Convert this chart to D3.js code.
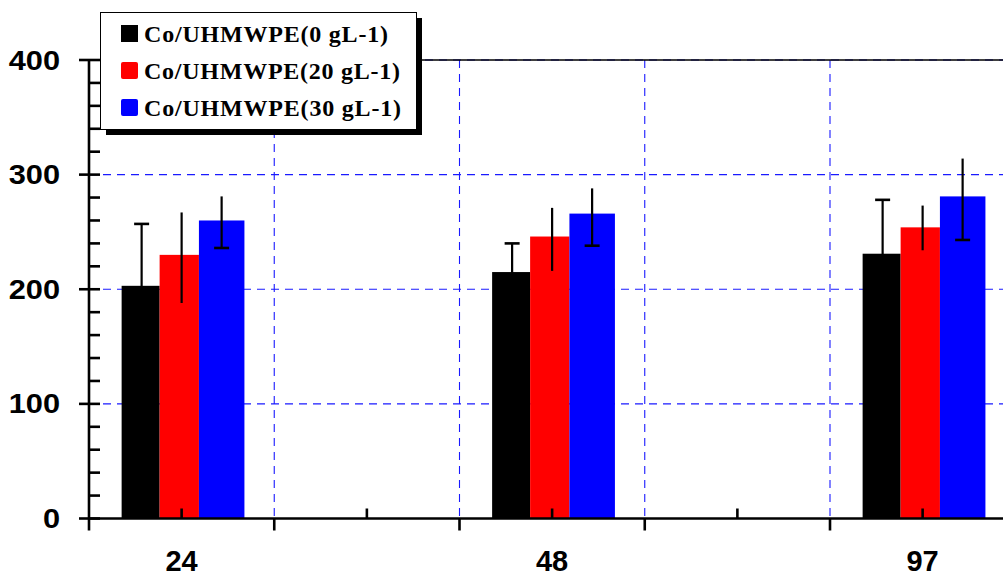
<!DOCTYPE html>
<html>
<head>
<meta charset="utf-8">
<script src="https://cdn.jsdelivr.net/npm/d3@7"></script>
<style>
  html, body { margin: 0; padding: 0; background: #fff; }
  svg { display: block; }
</style>
</head>
<body>
<svg id="chart" width="1003" height="578"></svg>
<script>
// ---- data ----
const categories = ["24", "48", "97"];
const seriesNames = ["Co/UHMWPE(0 gL-1)", "Co/UHMWPE(20 gL-1)", "Co/UHMWPE(30 gL-1)"];
const valuesBlack = [203, 215, 231];
const valuesRed   = [230, 246, 254];
const valuesBlue  = [260, 266, 281];
const errPlusBlack  = [54, 25, 47];
const errMinusBlack = [54, 25, 47];
const errPlusRed    = [37, 25, 19];
const errMinusRed   = [42, 30, 20];
const errPlusBlue   = [21, 22, 33];
const errMinusBlue  = [24, 28, 38];
const yTicks = [0, 100, 200, 300, 400];
const yMinorTicks = d3.range(0, 401, 20);

// ---- layout ----
const W = 1003, H = 578;
const x0 = 89, yBase = 518.5, yTop = 60;
const slot = 185.25;                 // width of one axis unit
const colors = ["#000000", "#ff0000", "#0000ff"];
// bar spans relative to the category centre (black, red, blue)
const barSpans = [[-60, -22], [-22, 17.3], [17.3, 62.8]];
const errOffsets = [-40, 0, 40];
const capMode = ["top", "none", "bottom"];
const legendTextWidths = [244, 256, 257];

const svg = d3.select("#chart");

const x = d3.scaleLinear().domain([0, 5]).range([x0, x0 + 5 * slot]);
const y = d3.scaleLinear().domain([0, 400]).range([yBase, yTop]);
const catPos = i => x(0.5 + 2 * i);

// ---- grid ----
const grid = svg.append("g")
  .attr("stroke", "#1a1aff").attr("stroke-width", 1.1)
  .attr("stroke-dasharray", "8,6");
grid.selectAll("line.h").data([100, 200, 300, 400]).join("line")
  .attr("x1", x0).attr("x2", W)
  .attr("y1", d => y(d)).attr("y2", d => y(d));
grid.selectAll("line.v").data([1, 2, 3, 4]).join("line")
  .attr("x1", d => x(d)).attr("x2", d => x(d))
  .attr("y1", yTop).attr("y2", yBase);

// top frame line
svg.append("line")
  .attr("x1", x0).attr("x2", W).attr("y1", y(400)).attr("y2", y(400))
  .attr("stroke", "#000").attr("stroke-width", 1.3);

// ---- bars ----
const series = [
  { vals: valuesBlack, plus: errPlusBlack, minus: errMinusBlack },
  { vals: valuesRed,   plus: errPlusRed,   minus: errMinusRed },
  { vals: valuesBlue,  plus: errPlusBlue,  minus: errMinusBlue }
];

const bars = svg.append("g");
series.forEach((s, si) => {
  bars.selectAll(null).data(s.vals).join("rect")
    .attr("x", (d, i) => catPos(i) + barSpans[si][0])
    .attr("width", barSpans[si][1] - barSpans[si][0])
    .attr("y", d => y(d))
    .attr("height", d => y(0) - y(d))
    .attr("fill", colors[si]);
});

// ---- error bars ----
const errG = svg.append("g").attr("stroke", "#000");
series.forEach((s, si) => {
  s.vals.forEach((v, i) => {
    const cx = catPos(i) + errOffsets[si];
    errG.append("line")
      .attr("x1", cx).attr("x2", cx)
      .attr("y1", y(v + s.plus[i])).attr("y2", y(v - s.minus[i]))
      .attr("stroke-width", 2.2);
    if (capMode[si] !== "none") {
      const cy = capMode[si] === "top" ? y(v + s.plus[i]) : y(v - s.minus[i]);
      errG.append("line")
        .attr("x1", cx - 7.5).attr("x2", cx + 7.5)
        .attr("y1", cy).attr("y2", cy)
        .attr("stroke-width", 2.6);
    }
  });
});

// ---- axes ----
const axisG = svg.append("g").attr("stroke", "#000");
// y axis line
axisG.append("line").attr("x1", x0).attr("x2", x0)
  .attr("y1", yTop - 1).attr("y2", yBase + 12).attr("stroke-width", 2.6);
// y minor ticks (inside)
axisG.selectAll("line.ymin").data(yMinorTicks.filter(d => d % 100 !== 0)).join("line")
  .attr("x1", x0).attr("x2", x0 + 11)
  .attr("y1", d => y(d)).attr("y2", d => y(d)).attr("stroke-width", 2.6);
// y major ticks (crossing)
axisG.selectAll("line.ymaj").data(yTicks).join("line")
  .attr("x1", x0 - 10).attr("x2", x0 + 11)
  .attr("y1", d => y(d)).attr("y2", d => y(d)).attr("stroke-width", 2.6);
// x axis line
axisG.append("line").attr("x1", x0).attr("x2", W)
  .attr("y1", yBase).attr("y2", yBase).attr("stroke-width", 2.6);
// x ticks: downward at unit boundaries, upward at category centres
axisG.selectAll("line.xd").data([1, 2, 3, 4]).join("line")
  .attr("x1", d => x(d)).attr("x2", d => x(d))
  .attr("y1", yBase).attr("y2", yBase + 12).attr("stroke-width", 2.6);
axisG.selectAll("line.xu").data([0.5, 1.5, 2.5, 3.5, 4.5]).join("line")
  .attr("x1", d => x(d)).attr("x2", d => x(d))
  .attr("y1", yBase - 10).attr("y2", yBase).attr("stroke-width", 2.6);

// y labels
svg.append("g").selectAll("text").data(yTicks).join("text")
  .attr("transform", d => `translate(60,${y(d) + 9.5}) scale(1.14,1)`)
  .attr("text-anchor", "end")
  .attr("font-family", "'Liberation Sans', Arial, sans-serif")
  .attr("font-weight", "bold").attr("font-size", 27)
  .text(d => d);

// x labels
svg.append("g").selectAll("text").data(categories).join("text")
  .attr("x", (d, i) => catPos(i)).attr("y", 571)
  .attr("text-anchor", "middle")
  .attr("font-family", "'Liberation Sans', Arial, sans-serif")
  .attr("font-weight", "bold").attr("font-size", 29)
  .text(d => d);

// ---- legend ----
const lg = svg.append("g");
lg.append("rect").attr("x", 106).attr("y", 18).attr("width", 316).attr("height", 117).attr("fill", "#000");
lg.append("rect").attr("x", 100.5).attr("y", 12.5).attr("width", 316).attr("height", 117)
  .attr("fill", "#fff").attr("stroke", "#000").attr("stroke-width", 1);
const rowBase = [42, 79, 116];
seriesNames.forEach((name, i) => {
  lg.append("rect")
    .attr("x", 121).attr("y", rowBase[i] - 17).attr("width", 17).attr("height", 17)
    .attr("rx", i === 0 ? 0 : 2)
    .attr("fill", colors[i]);
  lg.append("text")
    .attr("x", 144).attr("y", rowBase[i])
    .attr("font-family", "'Liberation Serif', 'Times New Roman', serif")
    .attr("font-weight", "bold").attr("font-size", 24)
    .attr("textLength", legendTextWidths[i])
    .attr("lengthAdjust", "spacing")
    .text(name);
});
</script>
</body>
</html>
